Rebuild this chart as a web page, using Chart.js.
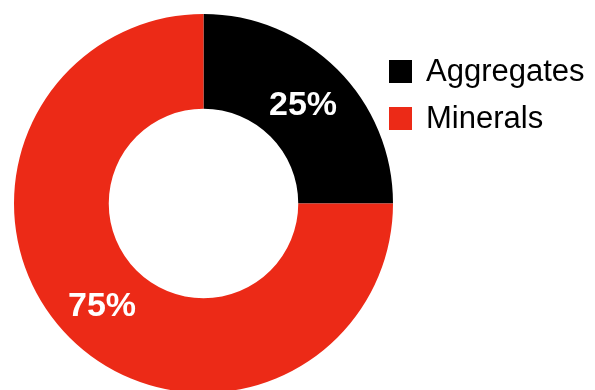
<!DOCTYPE html>
<html>
<head>
<meta charset="utf-8">
<script src="https://cdn.jsdelivr.net/npm/chart.js@4"></script>
<style>
  html, body { margin: 0; padding: 0; background: #fff; overflow: hidden; }
  #wrap { width: 595px; height: 390px; overflow: hidden; }
</style>
</head>
<body>
<div id="wrap"><canvas id="chart" width="595" height="420"></canvas></div>
<script>
const labels = ['Aggregates', 'Minerals'];
const shares = [25, 75];
const colors = ['#000000', '#ec2a17'];

// slice labels, drawn at each arc's centroid
const sliceLabels = {
    id: 'sliceLabels',
    afterDatasetsDraw(chart) {
        const ctx = chart.ctx;
        const meta = chart.getDatasetMeta(0);
        ctx.save();
        ctx.fillStyle = '#ffffff';
        ctx.font = 'bold 34px "Liberation Sans", Arial, sans-serif';
        ctx.textAlign = 'center';
        ctx.textBaseline = 'middle';
        meta.data.forEach((arc, i) => {
            const p = arc.tooltipPosition();
            ctx.fillText(shares[i] + '%', p.x - 1, p.y + 3);
        });
        ctx.restore();
    }
};

// legend at the right, top aligned
const sideLegend = {
    id: 'sideLegend',
    afterDraw(chart) {
        const ctx = chart.ctx;
        ctx.save();
        ctx.font = '31px "Liberation Sans", Arial, sans-serif';
        ctx.textAlign = 'left';
        ctx.textBaseline = 'alphabetic';
        labels.forEach((label, i) => {
            const y = 60 + i * 47;
            ctx.fillStyle = colors[i];
            ctx.fillRect(389, y, 23, 23);
            ctx.fillStyle = '#000000';
            ctx.fillText(label, 426, y + 21);
        });
        ctx.restore();
    }
};

new Chart(document.getElementById('chart'), {
    type: 'doughnut',
    data: {
        labels: labels,
        datasets: [{
            data: shares,
            backgroundColor: colors,
            borderWidth: 0
        }]
    },
    options: {
        responsive: false,
        animation: false,
        cutout: '50%',
        layout: { padding: { left: 14, top: 14, right: 202, bottom: 27 } },
        plugins: {
            legend: { display: false },
            tooltip: { enabled: false }
        }
    },
    plugins: [sliceLabels, sideLegend]
});
</script>
</body>
</html>
